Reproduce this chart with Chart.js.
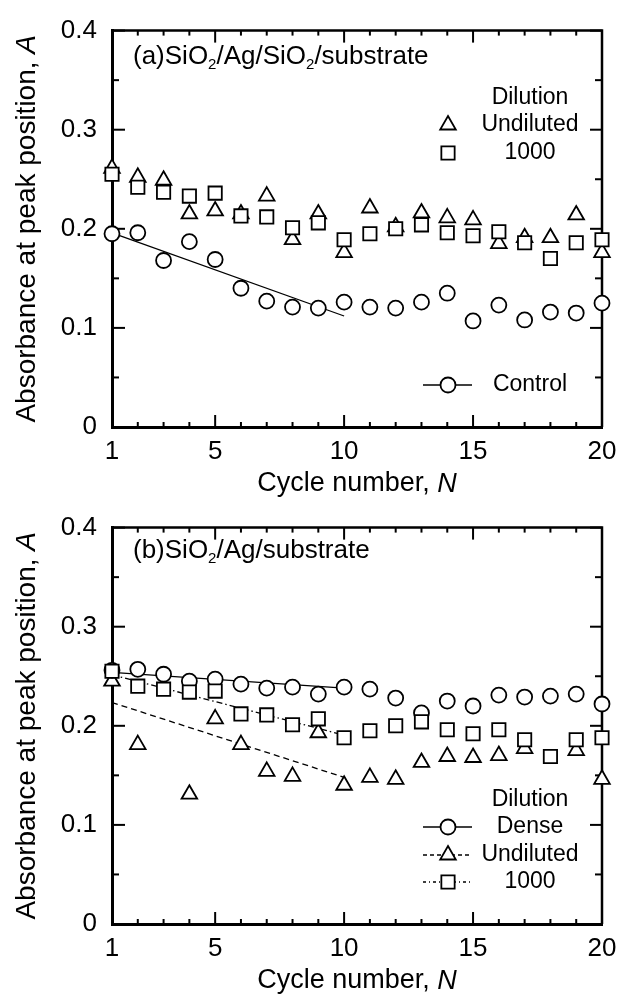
<!DOCTYPE html>
<html>
<head>
<meta charset="utf-8">
<script src="https://cdn.jsdelivr.net/npm/chart.js@4.4.0/dist/chart.umd.min.js"></script>
<style>
  html, body { margin: 0; padding: 0; background: #fff; }
  .panel { width: 627px; height: 497px; }
</style>
</head>
<body>
<div class="panel"><canvas id="chartA" width="627" height="497"></canvas></div>
<div class="panel"><canvas id="chartB" width="627" height="497"></canvas></div>
<script>
const cycles = [1, 2, 3, 4, 5, 6, 7, 8, 9, 10, 11, 12, 13, 14, 15, 16, 17, 18, 19, 20];
const xTicks = [1, 5, 10, 15, 20];
const yTicks = [0, 0.1, 0.2, 0.3, 0.4];

// (a) SiO2/Ag/SiO2/substrate
const aUndiluted = [0.261, 0.252, 0.249, 0.215, 0.218, 0.215, 0.233, 0.189, 0.215, 0.176,
  0.221, 0.202, 0.216, 0.211, 0.209, 0.185, 0.191, 0.191, 0.214, 0.176];
const a1000 = [0.255, 0.242, 0.237, 0.233, 0.236, 0.213, 0.212, 0.201, 0.206, 0.189,
  0.195, 0.200, 0.204, 0.196, 0.193, 0.197, 0.186, 0.170, 0.186, 0.189];
const aControl = [0.195, 0.196, 0.168, 0.187, 0.169, 0.140, 0.127, 0.121, 0.120, 0.126,
  0.121, 0.120, 0.126, 0.135, 0.107, 0.123, 0.108, 0.116, 0.115, 0.125];
const aFitX = [1, 10];
const aControlFit = [0.196, 0.112];

// (b) SiO2/Ag/substrate
const bDense = [0.256, 0.257, 0.252, 0.245, 0.247, 0.242, 0.238, 0.239, 0.232, 0.239,
  0.237, 0.228, 0.213, 0.225, 0.220, 0.231, 0.229, 0.230, 0.232, 0.222];
const bUndiluted = [0.245, 0.181, null, 0.131, 0.207, 0.181, 0.154, 0.149, 0.193, 0.140,
  0.148, 0.146, 0.163, 0.169, 0.168, 0.170, 0.177, null, 0.175, 0.146];
const b1000 = [0.255, 0.240, 0.237, 0.234, 0.235, 0.212, 0.211, 0.201, 0.207, 0.188,
  0.195, 0.200, 0.204, 0.196, 0.192, 0.196, 0.186, 0.169, 0.186, 0.188];
const bFitX = [1, 10];
const bDenseFit = [0.254, 0.238];
const bUndilutedFit = [0.2235, 0.148];
const b1000Fit = [0.2515, 0.1906];

const FONT = "'Liberation Sans', Arial, sans-serif";
const pts = (xs, ys) => xs.map((c, i) => ({ x: c, y: ys[i] }));

const markerStyles = {
  circle: { pointStyle: 'circle', radius: 7.5 },
  triangle: { pointStyle: 'triangle', radius: 9 },
  rect: { pointStyle: 'rect', radius: 9.4 },
};
const MARK_W = 1.8;

function markers(data, style) {
  const m = markerStyles[style];
  return {
    data: data,
    showLine: false,
    pointStyle: m.pointStyle,
    pointRadius: m.radius,
    pointBackgroundColor: '#fff',
    pointBorderColor: '#000',
    pointBorderWidth: MARK_W,
    clip: false,
  };
}

function fitLine(data, dash) {
  return {
    data: data,
    showLine: true,
    pointRadius: 0,
    borderColor: '#000',
    borderWidth: 1.3,
    borderDash: dash,
    fill: false,
    clip: false,
  };
}

function drawRuns(ctx, runs, x, y, align) {
  let total = 0;
  for (const r of runs) {
    ctx.font = r.font;
    total += ctx.measureText(r.text).width;
  }
  let cx = align === 'center' ? x - total / 2 : x;
  for (const r of runs) {
    ctx.font = r.font;
    ctx.fillText(r.text, cx, y + (r.dy || 0));
    cx += ctx.measureText(r.text).width;
  }
}

function drawMarker(ctx, style, x, y) {
  const m = markerStyles[style];
  ctx.fillStyle = '#fff';
  ctx.strokeStyle = '#000';
  ctx.lineWidth = MARK_W;
  Chart.helpers.drawPoint(ctx, { pointStyle: m.pointStyle, radius: m.radius, rotation: 0, borderWidth: MARK_W }, x, y);
}

// frame on top/right + inward ticks, drawn under the markers
const framePlugin = {
  id: 'frame',
  beforeDatasetsDraw(chart) {
    const { ctx, chartArea: a, scales: { x, y } } = chart;
    const seg = (x1, y1, x2, y2) => { ctx.beginPath(); ctx.moveTo(x1, y1); ctx.lineTo(x2, y2); ctx.stroke(); };
    ctx.save();
    ctx.strokeStyle = '#000';
    ctx.lineWidth = 2.5;
    ctx.beginPath();
    ctx.moveTo(a.left, a.top);
    ctx.lineTo(a.right, a.top);
    ctx.lineTo(a.right, a.bottom);
    ctx.stroke();
    ctx.lineWidth = 2;
    for (const c of cycles) {
      const px = x.getPixelForValue(c);
      const len = xTicks.includes(c) ? 12 : 5;
      seg(px, a.bottom, px, a.bottom - len);
      seg(px, a.top, px, a.top + len);
    }
    for (let i = 1; i < yTicks.length * 2 - 1; i++) {
      const v = i * 0.05;
      const py = y.getPixelForValue(v);
      const major = i % 2 === 0;
      seg(a.left, py, a.left + (major ? 13 : 7), py);
      seg(a.right, py, a.right - (major ? 12 : 7), py);
    }
    ctx.restore();
  },
  afterDraw(chart) {
    const { ctx, chartArea: a } = chart;
    const p = chart.options.plugins.frame;
    ctx.save();
    ctx.fillStyle = '#000';
    ctx.textBaseline = 'middle';
    // axis titles
    drawRuns(ctx, [
      { text: 'Cycle number, ', font: '27px ' + FONT },
      { text: 'N', font: 'italic 27px ' + FONT },
    ], (a.left + a.right) / 2, 484, 'center');
    ctx.save();
    ctx.translate(27, (a.top + a.bottom) / 2);
    ctx.rotate(-Math.PI / 2);
    drawRuns(ctx, [
      { text: 'Absorbance at peak position, ', font: '28px ' + FONT },
      { text: 'A', font: 'italic 28px ' + FONT },
    ], 0, 0, 'center');
    ctx.restore();
    // panel label
    drawRuns(ctx, p.label, 133, p.labelY, 'left');
    // legend
    ctx.textAlign = 'center';
    ctx.font = '23px ' + FONT;
    for (const e of p.legend) {
      ctx.fillStyle = '#000';
      ctx.fillText(e.text, 530, e.y);
      if (e.dash) {
        ctx.strokeStyle = '#000';
        ctx.lineWidth = 1.3;
        ctx.setLineDash(e.dash);
        ctx.beginPath();
        ctx.moveTo(423, e.y);
        ctx.lineTo(472, e.y);
        ctx.stroke();
        ctx.setLineDash([]);
      }
      if (e.marker) drawMarker(ctx, e.marker, 448, e.y);
    }
    ctx.restore();
  },
};

function makeChart(id, datasets, padTop, label, labelY, legend) {
  return new Chart(document.getElementById(id), {
    type: 'scatter',
    data: { datasets: datasets },
    options: {
      responsive: false,
      animation: false,
      layout: { padding: { top: padTop, right: 25, left: 0, bottom: 0 } },
      plugins: {
        legend: { display: false },
        tooltip: { enabled: false },
        frame: { label: label, labelY: labelY, legend: legend },
      },
      scales: {
        x: {
          type: 'linear',
          min: 1,
          max: 20,
          afterBuildTicks: (s) => { s.ticks = xTicks.map((v) => ({ value: v })); },
          afterFit: (s) => { s.height = 70; },
          grid: { display: false, drawTicks: false },
          border: { display: true, width: 3, color: '#000' },
          ticks: { color: '#000', font: { family: FONT, size: 26 }, padding: 9, maxRotation: 0, autoSkip: false },
        },
        y: {
          type: 'linear',
          min: 0,
          max: 0.4,
          afterBuildTicks: (s) => { s.ticks = yTicks.map((v) => ({ value: v })); },
          afterFit: (s) => { s.width = 112; },
          grid: { display: false, drawTicks: false },
          border: { display: true, width: 3, color: '#000' },
          ticks: {
            color: '#000',
            font: { family: FONT, size: 26 },
            padding: 15,
            callback: (v) => (v === 0 ? '0' : v.toFixed(1)),
          },
        },
      },
    },
    plugins: [framePlugin],
  });
}

const big = '26px ' + FONT;
const sub = '15px ' + FONT;

makeChart('chartA', [
  markers(pts(cycles, a1000), 'rect'),
  markers(pts(cycles, aUndiluted), 'triangle'),
  markers(pts(cycles, aControl), 'circle'),
  fitLine(pts(aFitX, aControlFit), []),
], 22, [
  { text: '(a)SiO', font: big },
  { text: '2', font: sub, dy: 8 },
  { text: '/Ag/SiO', font: big },
  { text: '2', font: sub, dy: 8 },
  { text: '/substrate', font: big },
], 57, [
  { text: 'Dilution', y: 98 },
  { text: 'Undiluted', y: 125, marker: 'triangle' },
  { text: '1000', y: 153, marker: 'rect' },
  { text: 'Control', y: 385, marker: 'circle', dash: [] },
]);

makeChart('chartB', [
  markers(pts(cycles, b1000), 'rect'),
  markers(pts(cycles, bDense), 'circle'),
  markers(pts(cycles, bUndiluted), 'triangle'),
  fitLine(pts(bFitX, bDenseFit), []),
  fitLine(pts(bFitX, bUndilutedFit), [6, 4]),
  fitLine(pts(bFitX, b1000Fit), [6, 3, 1.5, 3]),
], 21, [
  { text: '(b)SiO', font: big },
  { text: '2', font: sub, dy: 8 },
  { text: '/Ag/substrate', font: big },
], 54, [
  { text: 'Dilution', y: 303 },
  { text: 'Dense', y: 330, marker: 'circle', dash: [] },
  { text: 'Undiluted', y: 358, marker: 'triangle', dash: [4, 3] },
  { text: '1000', y: 385, marker: 'rect', dash: [3, 3, 1, 3] },
]);
</script>
</body>
</html>
